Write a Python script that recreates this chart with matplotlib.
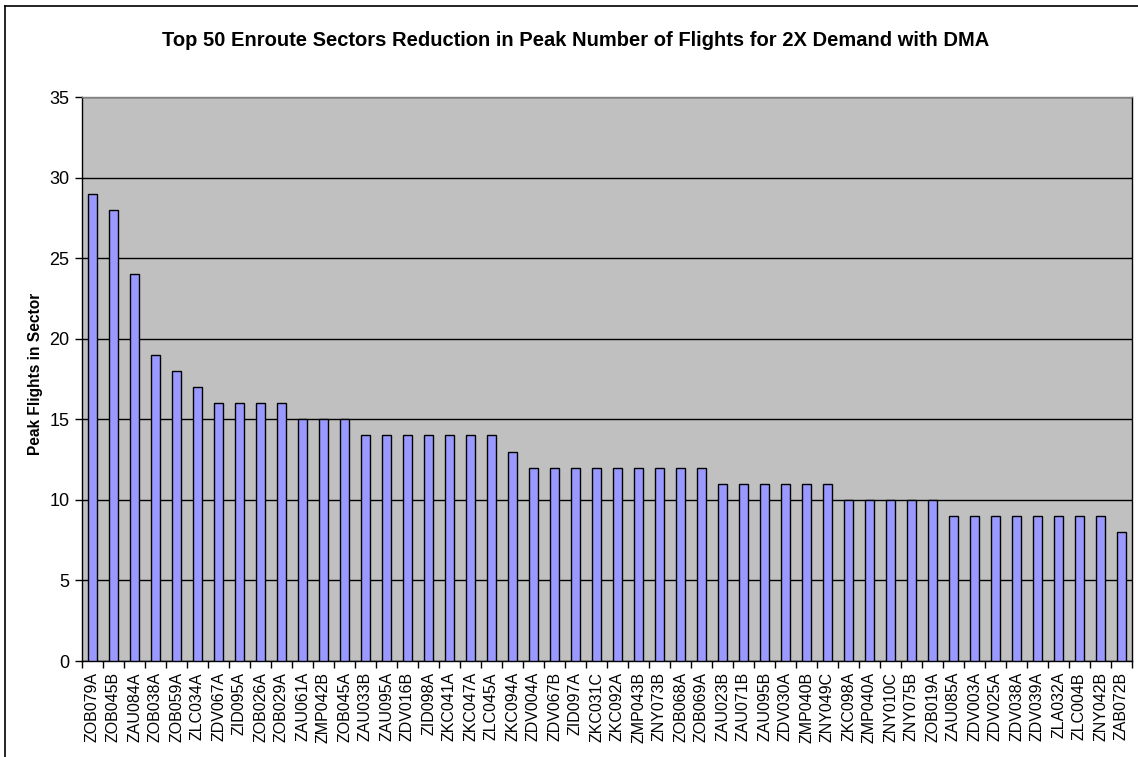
import matplotlib
matplotlib.use("Agg")
import matplotlib.pyplot as plt
from matplotlib.lines import Line2D
import numpy as np

plt.rcParams['font.family'] = ['Liberation Sans', 'DejaVu Sans']

sectors = ["ZOB079A", "ZOB045B", "ZAU084A", "ZOB038A", "ZOB059A", "ZLC034A", "ZDV067A",
           "ZID095A", "ZOB026A", "ZOB029A", "ZAU061A", "ZMP042B", "ZOB045A", "ZAU033B",
           "ZAU095A", "ZDV016B", "ZID098A", "ZKC041A", "ZKC047A", "ZLC045A", "ZKC094A",
           "ZDV004A", "ZDV067B", "ZID097A", "ZKC031C", "ZKC092A", "ZMP043B", "ZNY073B",
           "ZOB068A", "ZOB069A", "ZAU023B", "ZAU071B", "ZAU095B", "ZDV030A", "ZMP040B",
           "ZNY049C", "ZKC098A", "ZMP040A", "ZNY010C", "ZNY075B", "ZOB019A", "ZAU085A",
           "ZDV003A", "ZDV025A", "ZDV038A", "ZDV039A", "ZLA032A", "ZLC004B", "ZNY042B",
           "ZAB072B"]
peak_flights = [29, 28, 24, 19, 18, 17, 16, 16, 16, 16, 15, 15, 15, 14, 14, 14, 14, 14, 14, 14,
                13, 12, 12, 12, 12, 12, 12, 12, 12, 12, 11, 11, 11, 11, 11, 11, 10, 10, 10, 10,
                10, 9, 9, 9, 9, 9, 9, 9, 9, 8]
yticks = [0, 5, 10, 15, 20, 25, 30, 35]

W, H = 1138, 757
fig = plt.figure(figsize=(W / 100, H / 100), dpi=100)
ax = fig.add_axes([82 / W, 1 - 661 / H, (1132 - 82) / W, (661 - 97) / H])
ax.set_facecolor('#C0C0C0')

x = np.arange(len(sectors))
ax.bar(x, peak_flights, width=0.42, color='#9999FF', edgecolor='#000000', linewidth=1.0, zorder=3)

ax.set_xlim(-0.5, len(sectors) - 0.5)
ax.set_ylim(0, 35)
ax.set_yticks(yticks)
ax.set_yticklabels([str(v) for v in yticks], fontsize=13)
ax.yaxis.grid(True, color='black', linewidth=1.0, zorder=1)
ax.set_axisbelow(True)

ax.set_xticks(x)
ax.set_xticklabels(sectors, rotation=90, fontsize=11.5)
ax.tick_params(axis='x', length=0, pad=8)
ax.set_xticks(np.arange(-0.5, len(sectors) + 0.5, 1), minor=True)
ax.tick_params(axis='x', which='minor', length=5, width=1, color='black', direction='out')
ax.tick_params(axis='y', length=5, width=1, direction='out', pad=4)

ax.spines['top'].set_color('#808080')
for s in ['left', 'bottom', 'right']:
    ax.spines[s].set_color('black')
for s in ax.spines.values():
    s.set_linewidth(1.0)

ax.set_ylabel('Peak Flights in Sector', fontsize=11.2, fontweight='bold')
ax.yaxis.set_label_coords(-0.037, 0.509)

fig.text(576 / W, 1 - 40 / H,
         'Top 50 Enroute Sectors Reduction in Peak Number of Flights for 2X Demand with DMA',
         ha='center', va='center', fontsize=14.5, fontweight='bold')

# outer chart border (cut off at right and bottom)
fig.add_artist(Line2D([5 / W, 1.0], [1 - 6 / H, 1 - 6 / H], color='black', linewidth=1.2,
                      transform=fig.transFigure))
fig.add_artist(Line2D([5 / W, 5 / W], [0.0, 1 - 6 / H], color='black', linewidth=1.2,
                      transform=fig.transFigure))

fig.savefig('out.png', dpi=100, facecolor='white')
